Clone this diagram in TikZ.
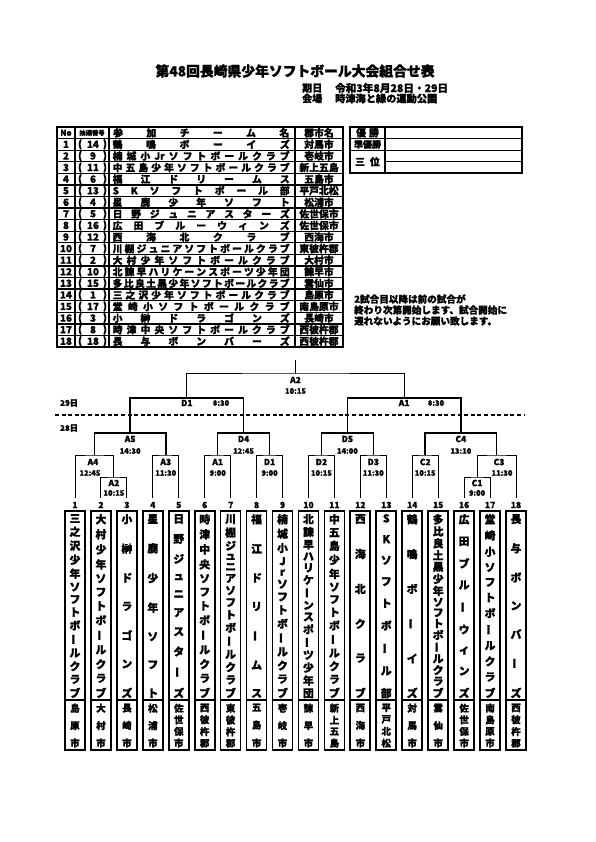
\documentclass[tikz,border=0pt]{standalone}
\usepackage{fontspec}
\setmainfont{Noto Sans CJK JP}[BoldFeatures={FakeBold=1.3}]
\def\hsA#1{#1\hsB}
\def\hsB#1{\ifx\relax#1\else\hfill#1\expandafter\hsB\fi}
\newcommand\spreadbox[2]{\makebox[#1][s]{\expandafter\hsA#2\relax}}
\def\vsChar#1{\hbox to 14pt{\hss\if ー#1\rotatebox[origin=c]{90}{ー}\else#1\fi\hss}}
\def\vsA#1{\vsChar{#1}\vsB}
\def\vsB#1{\ifx\relax#1\else\vfill\vsChar{#1}\expandafter\vsB\fi}
\newcommand\vstack[2]{\vbox to #1{\offinterlineskip\expandafter\vsA#2\relax}}
\tikzset{
  every node/.style={inner sep=0pt},
  tline/.style={line width=1.3pt},
  tframe/.style={line width=1.7pt},
  boxline/.style={line width=1.7pt},
  thinb/.style={line width=0.9pt},
  thickb/.style={line width=1.5pt},
  cell/.style={font=\fontsize{9.8}{9.8}\selectfont},
  mlab/.style={font=\fontsize{8.5}{8.5}\selectfont},
  tlab/.style={font=\fontsize{7.5}{7.5}\selectfont},
  numlab/.style={font=\fontsize{8.5}{8.5}\selectfont},
  vname/.style={anchor=north,font=\fontsize{10.8}{10.8}\selectfont},
  vcity/.style={anchor=north,font=\fontsize{9.5}{9.5}\selectfont},
}
\begin{document}
\bfseries
\begin{tikzpicture}[x=1pt,y=-1pt]
\useasboundingbox (0,0) rectangle (595,842);
\fill[white] (0,0) rectangle (595,842);

% title
\node[font=\fontsize{13.8}{14}\selectfont] (title) at (295,71) {第48回長崎県少年ソフトボール大会組合せ表};
\node[anchor=west,font=\fontsize{10}{10}\selectfont] (kijitsu) at (302,88) {期日};
\node[anchor=west,font=\fontsize{10.6}{10.6}\selectfont] (date) at (335,88) {令和3年8月28日・29日};
\node[anchor=west,font=\fontsize{10}{10}\selectfont] (kaijo) at (302,98.5) {会場};
\node[anchor=west,font=\fontsize{10.2}{10.2}\selectfont] (venue) at (335,98.5) {時津海と緑の運動公園};

% participant table
\foreach \k in {1,...,18}{\draw[tline] (57,{127+\k*11.58}) -- (343,{127+\k*11.58});}
\foreach \xx in {75,109,295}{\draw[tline] (\xx,127) -- (\xx,347);}
\draw[tframe] (57,127) rectangle (343,347);
\node[cell,font=\fontsize{8}{8}\selectfont] (hno) at (66,132.8) {No};
\node[font=\fontsize{6.3}{6.3}\selectfont] (hdraw) at (92,132.8) {抽選番号};
\node[cell,anchor=west] (hname) at (113,132.8) {\spreadbox{176pt}{参加チーム名}};
\node[cell] (hcity) at (319,132.8) {郡市名};
\foreach \nn/\dd/\tm/\cy [count=\rr] in {
1/14/鶴鳴ボーイズ/対馬市,
2/9/楠城小{Jr}ソフトボールクラブ/壱岐市,
3/11/中五島少年ソフトボールクラブ/新上五島,
4/6/福江ドリームス/五島市,
5/13/SKソフトボール部/平戸北松,
6/4/星鹿少年ソフト/松浦市,
7/5/日野ジュニアスターズ/佐世保市,
8/16/広田ブルーウィンズ/佐世保市,
9/12/西海北クラブ/西海市,
10/7/川棚ジュニアソフトボールクラブ/東彼杵郡,
11/2/大村少年ソフトボールクラブ/大村市,
12/10/北諫早ハリケーンスポーツ少年団/諫早市,
13/15/多比良土黒少年ソフトボールクラブ/雲仙市,
14/1/三之沢少年ソフトボールクラブ/島原市,
15/17/堂崎小ソフトボールクラブ/南島原市,
16/3/小榊ドラゴンズ/長崎市,
17/8/時津中央ソフトボールクラブ/西彼杵郡,
18/18/長与ボンバーズ/西彼杵郡}{
  \pgfmathsetmacro\yy{127+(\rr+0.5)*11.58}
  \node[cell] (no\rr) at (66,\yy) {\nn};
  \node[cell] (lp\rr) at (80,\yy) {(};
  \node[cell] (dn\rr) at (93,\yy) {\dd};
  \node[cell] (rp\rr) at (105,\yy) {)};
  \node[cell,anchor=west] (nm\rr) at (112.5,\yy) {\spreadbox{177pt}{\tm}};
  \node[cell] (cy\rr) at (319,\yy) {\cy};
}

% result box
\draw[tline] (350,138.58) -- (522,138.58);
\draw[tline] (350,150.16) -- (522,150.16);
\draw[tline] (385,161.74) -- (522,161.74);
\draw[tline] (385,127) -- (385,173.32);
\draw[tframe] (350,127) rectangle (522,173.32);
\node[cell] (win) at (367.5,132.8) {優\hspace{3pt}勝};
\node[cell,font=\fontsize{9}{9}\selectfont] (runner) at (367.5,144.4) {準優勝};
\node[cell] (third) at (367.5,161.74) {三\hspace{5pt}位};

% note
\node[anchor=west,font=\fontsize{9.6}{9.6}\selectfont] (note1) at (354,299) {2試合目以降は前の試合が};
\node[anchor=west,font=\fontsize{9.6}{9.6}\selectfont] (note2) at (354,310) {終わり次第開始します、試合開始に};
\node[anchor=west,font=\fontsize{9.6}{9.6}\selectfont] (note3) at (354,321) {遅れないようにお願い致します。};

% day labels and divider
\node[font=\fontsize{8}{8}\selectfont] (d29) at (69,403) {29日};
\node[font=\fontsize{8}{8}\selectfont] (d28) at (69,428) {28日};
\coordinate (dashL) at (55,415);
\coordinate (dashR) at (524,415);
\draw[line width=1.3pt,dash pattern=on 4pt off 2.6pt] (dashL) -- (dashR);

% team columns
\foreach \i/\tm/\cy in {
1/三之沢少年ソフトボールクラブ/島原市,
2/大村少年ソフトボールクラブ/大村市,
3/小榊ドラゴンズ/長崎市,
4/星鹿少年ソフト/松浦市,
5/日野ジュニアスターズ/佐世保市,
6/時津中央ソフトボールクラブ/西彼杵郡,
7/川棚ジュニアソフトボールクラブ/東彼杵郡,
8/福江ドリームス/五島市,
9/楠城小Jrソフトボールクラブ/壱岐市,
10/北諫早ハリケーンスポーツ少年団/諫早市,
11/中五島少年ソフトボールクラブ/新上五島,
12/西海北クラブ/西海市,
13/SKソフトボール部/平戸北松,
14/鶴鳴ボーイズ/対馬市,
15/多比良土黒少年ソフトボールクラブ/雲仙市,
16/広田ブルーウィンズ/佐世保市,
17/堂崎小ソフトボールクラブ/南島原市,
18/長与ボンバーズ/西彼杵郡}{
  \pgfmathsetmacro\xx{75+(\i-1)*25.94}
  \coordinate (p\i) at (\xx,498);
  \node[numlab] (n\i) at (\xx,505) {\i};
  \draw[boxline] ({\xx-10},511) rectangle ({\xx+10},750);
  \draw[boxline] ({\xx-10},700) -- ({\xx+10},700);
  \node[vname] (v\i) at (\xx,514) {\vstack{183pt}{\tm}};
  \node[vcity] (c\i) at (\xx,703.5) {\vstack{43pt}{\cy}};
}

% match points
\coordinate (mA2L) at (113.91,477);
\coordinate (mA4) at (94.46,455);
\coordinate (mA3) at (165.79,455);
\coordinate (mA5) at (130.12,433);
\coordinate (mA1) at (217.67,455);
\coordinate (mD1) at (269.55,455);
\coordinate (mD4) at (243.61,433);
\coordinate (mD2) at (321.43,455);
\coordinate (mD3) at (373.31,455);
\coordinate (mD5) at (347.37,433);
\coordinate (mC2) at (425.19,455);
\coordinate (mC1) at (477.07,477);
\coordinate (mC3) at (496.53,455);
\coordinate (mC4) at (460.86,433);
\coordinate (mD1b) at (186.87,398);
\coordinate (mA1b) at (404.11,398);
\coordinate (mF) at (295.49,373);
\coordinate (topend) at (295.49,360);

% bracket lines
\draw[thinb] (p2) |- (mA2L) -| (p3);
\draw[thinb] (p1) |- (mA4) -| (mA2L);
\draw[thinb] (p4) |- (mA3) -| (p5);
\draw[thinb] (p6) |- (mA1) -| (p7);
\draw[thinb] (p8) |- (mD1) -| (p9);
\draw[thinb] (p10) |- (mD2) -| (p11);
\draw[thinb] (p12) |- (mD3) -| (p13);
\draw[thinb] (p14) |- (mC2) -| (p15);
\draw[thinb] (p16) |- (mC1) -| (p17);
\draw[thinb] (mC1) |- (mC3) -| (p18);
\draw[thickb] (mA4) |- (mA5) -| (mA3);
\draw[thickb] (mA1) |- (mD4) -| (mD1);
\draw[thickb] (mD2) |- (mD5) -| (mD3);
\draw[thickb] (mC2) |- (mC4) -| (mC3);
\draw[thickb] (mA5) |- (mD1b) -| (mD4);
\draw[thickb] (mD5) |- (mA1b) -| (mC4);
\draw[thinb] (mD1b) |- (mF) -| (mA1b);
\draw[thickb] (mF) -- (topend);

% match labels
\node[mlab] (lA2L) at (113.91,483) {A2};
\node[tlab] (tA2L) at (113.91,493) {10:15};
\node[mlab] (lA4) at (93,462) {A4};
\node[tlab] (tA4) at (90,473) {12:45};
\node[mlab] (lA3) at (165.79,462) {A3};
\node[tlab] (tA3) at (165.79,473) {11:30};
\node[mlab] (lA5) at (130.12,439) {A5};
\node[tlab] (tA5) at (130.12,451) {14:30};
\node[mlab] (lA1) at (217.67,462) {A1};
\node[tlab] (tA1) at (217.67,473) {9:00};
\node[mlab] (lD1) at (269.55,462) {D1};
\node[tlab] (tD1) at (269.55,473) {9:00};
\node[mlab] (lD4) at (243.61,439) {D4};
\node[tlab] (tD4) at (243.61,451) {12:45};
\node[mlab] (lD2) at (321.43,462) {D2};
\node[tlab] (tD2) at (321.43,473) {10:15};
\node[mlab] (lD3) at (373.31,462) {D3};
\node[tlab] (tD3) at (373.31,473) {11:30};
\node[mlab] (lD5) at (347.37,439) {D5};
\node[tlab] (tD5) at (347.37,451) {14:00};
\node[mlab] (lC2) at (425.19,462) {C2};
\node[tlab] (tC2) at (425.19,473) {10:15};
\node[mlab] (lC1) at (477.07,483) {C1};
\node[tlab] (tC1) at (477.07,493) {9:00};
\node[mlab] (lC3) at (499,462) {C3};
\node[tlab] (tC3) at (502,473) {11:30};
\node[mlab] (lC4) at (460.86,439) {C4};
\node[tlab] (tC4) at (460.86,451) {13:10};
\node[mlab] (lD1b) at (186.87,403) {D1};
\node[tlab] (tD1b) at (221,403) {8:30};
\node[mlab] (lA1b) at (404.11,403) {A1};
\node[tlab] (tA1b) at (436,403) {8:30};
\node[mlab] (lF) at (295.49,380) {A2};
\node[tlab] (tF) at (295.49,391) {10:15};
\end{tikzpicture}
\end{document}
